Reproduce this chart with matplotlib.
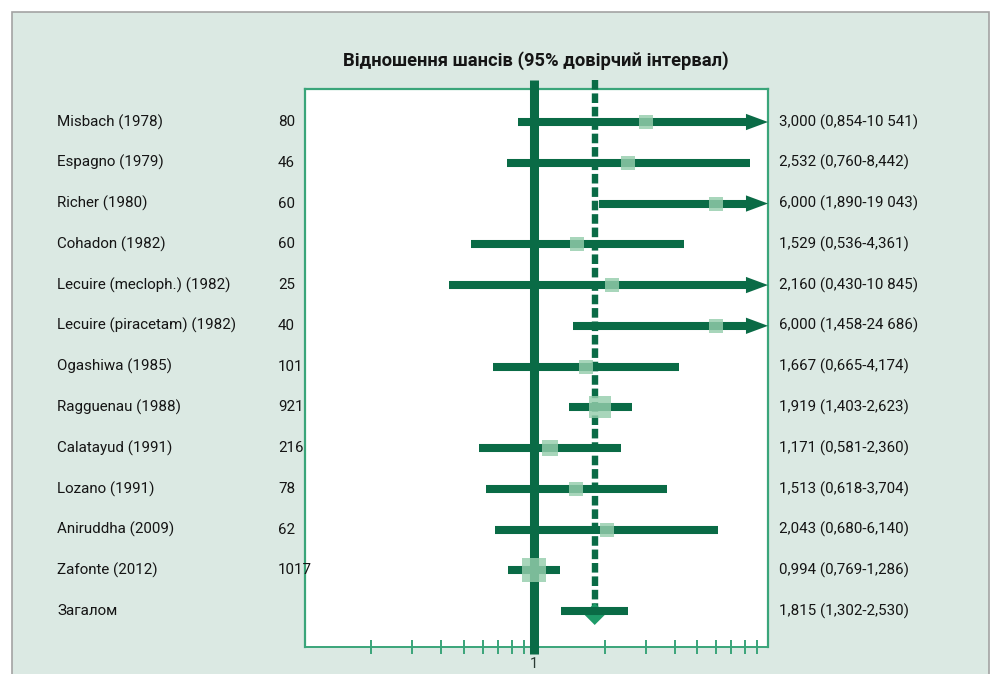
import matplotlib
matplotlib.use("Agg")
import matplotlib.pyplot as plt
import matplotlib.transforms as mtransforms
from matplotlib.patches import Rectangle, Polygon
import numpy as np

plt.rcParams['font.family'] = ['Roboto', 'DejaVu Sans']

title = "Відношення шансів (95% довірчий інтервал)"
studies = ["Misbach (1978)", "Espagno (1979)", "Richer (1980)", "Cohadon (1982)",
           "Lecuire (mecloph.) (1982)", "Lecuire (piracetam) (1982)", "Ogashiwa (1985)",
           "Ragguenau (1988)", "Calatayud (1991)", "Lozano (1991)", "Aniruddha (2009)",
           "Zafonte (2012)"]
n_patients = [80, 46, 60, 60, 25, 40, 101, 921, 216, 78, 62, 1017]
odds_ratio = [3.000, 2.532, 6.000, 1.529, 2.160, 6.000, 1.667, 1.919, 1.171, 1.513, 2.043, 0.994]
ci_low = [0.854, 0.760, 1.890, 0.536, 0.430, 1.458, 0.665, 1.403, 0.581, 0.618, 0.680, 0.769]
ci_high = [10.541, 8.442, 19.043, 4.361, 10.845, 24.686, 4.174, 2.623, 2.360, 3.704, 6.140, 1.286]
right_labels = ["3,000 (0,854-10 541)", "2,532 (0,760-8,442)", "6,000 (1,890-19 043)",
                "1,529 (0,536-4,361)", "2,160 (0,430-10 845)", "6,000 (1,458-24 686)",
                "1,667 (0,665-4,174)", "1,919 (1,403-2,623)", "1,171 (0,581-2,360)",
                "1,513 (0,618-3,704)", "2,043 (0,680-6,140)", "0,994 (0,769-1,286)"]
overall_label = "Загалом"
overall_or = 1.815
overall_low = 1.302
overall_high = 2.530
overall_text = "1,815 (1,302-2,530)"
x_ticks = [0.2, 0.3, 0.4, 0.5, 0.6, 0.7, 0.8, 0.9, 1, 2, 3, 4, 5, 6, 7, 8, 9]
x_min, x_max = 0.104, 10.04

DARK = "#0a6b46"
BOX = "#3aa57a"
SQ = "#95cdac"
PANEL = "#dbe9e3"
TXT = "#151515"

W, H = 992, 674
fig = plt.figure(figsize=(W / 100, H / 100), dpi=100)
fig.patch.set_facecolor("white")
fig.patches.append(Rectangle((12 / W, -0.05), (989 - 12) / W, 1 - 12 / H + 0.05,
                             transform=fig.transFigure, facecolor=PANEL,
                             edgecolor="#a3a3a3", linewidth=1.2, zorder=-10))

ax = fig.add_axes([305 / W, 1 - 647 / H, (768 - 305) / W, (647 - 89) / H])
ax.set_facecolor("white")
ax.set_xscale("log")
ax.set_xlim(x_min, x_max)
nrows = len(studies) + 1
ax.set_ylim(12.88, -0.81)

for side in ["left", "right", "top"]:
    ax.spines[side].set_color(BOX)
    ax.spines[side].set_linewidth(1.6)
ax.spines["bottom"].set_color(BOX)
ax.spines["bottom"].set_linewidth(1.4)
ax.set_yticks([])
ax.xaxis.set_minor_locator(matplotlib.ticker.NullLocator())
ax.set_xticks(x_ticks)
ax.set_xticklabels(["1" if t == 1 else "" for t in x_ticks])
ax.tick_params(axis="x", direction="inout", length=10, width=1.4, color=BOX,
               labelsize=10.5, labelcolor="#2a3a33", pad=2)

# reference line at 1
ax.plot([1, 1], [-1.03, 13.05], color=DARK, lw=6.5, solid_capstyle="butt",
        clip_on=False, zorder=3)
# overall dashed line
ax.plot([overall_or, overall_or], [-1.03, nrows - 1], color=DARK, lw=4.6,
        dashes=(1.5, 0.6), clip_on=False, zorder=3)

head_len = 10 ** (-22 / 233.0)
for i in range(len(studies)):
    lo, hi, o = ci_low[i], ci_high[i], odds_ratio[i]
    if hi > x_max:
        end = x_max * head_len
        ax.plot([lo, end], [i, i], color=DARK, lw=5.8, solid_capstyle="butt", zorder=4)
        ax.add_patch(Polygon([[end, i - 0.2], [x_max, i], [end, i + 0.2]],
                             closed=True, facecolor=DARK, edgecolor="none", zorder=4,
                             clip_on=False))
    else:
        ax.plot([lo, hi], [i, i], color=DARK, lw=5.8, solid_capstyle="butt", zorder=4)
    size_px = 13 + 11 * (n_patients[i] / max(n_patients))
    ax.plot([o], [i], marker="s", markersize=size_px * 0.72, color=SQ,
            markeredgewidth=0, alpha=0.82, zorder=5, linestyle="none")

# overall
yo = nrows - 1
dw = 10 ** (11 / 233.0)
ax.add_patch(Polygon([[overall_or / dw, yo + 0.07], [overall_or, yo - 0.2],
                      [overall_or * dw, yo + 0.07], [overall_or, yo + 0.34]],
                     closed=True, facecolor="#1d9a68", edgecolor="none", zorder=4))
ax.plot([overall_low, overall_high], [yo, yo], color=DARK, lw=5.8,
        solid_capstyle="butt", zorder=4)

tr = mtransforms.blended_transform_factory(fig.transFigure, ax.transData)
fs = 10.9
for i in range(len(studies)):
    fig.text(57 / W, i, studies[i], transform=tr, va="center", ha="left", fontsize=fs, color=TXT)
    fig.text(278 / W, i, str(n_patients[i]), transform=tr, va="center", ha="left", fontsize=fs, color=TXT)
    fig.text(779 / W, i, right_labels[i], transform=tr, va="center", ha="left", fontsize=fs, color=TXT)
fig.text(57 / W, yo, overall_label, transform=tr, va="center", ha="left", fontsize=fs, color=TXT)
fig.text(779 / W, yo, overall_text, transform=tr, va="center", ha="left", fontsize=fs, color=TXT)

fig.text(536 / W, 1 - 61 / H, title, ha="center", va="center", fontsize=13.2,
         fontweight="bold", color=TXT)

fig.savefig("out.png", dpi=100)
